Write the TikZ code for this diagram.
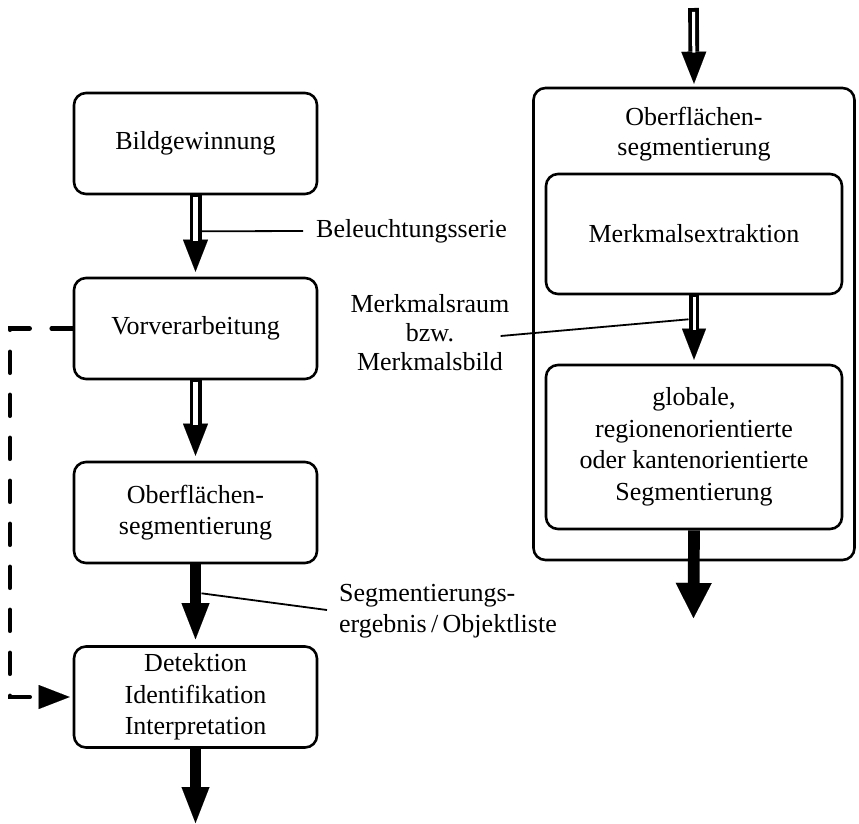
\documentclass[tikz,border=0pt]{standalone}
\usepackage{fontspec}
\setmainfont{Liberation Serif}
\usetikzlibrary{arrows.meta,calc}

\begin{document}
\begin{tikzpicture}[x=1pt,y=-1pt,
  every node/.style={font=\fontsize{26}{31.5}\selectfont, align=center, inner sep=0pt},
  stage/.style={draw, line width=2.6pt, rounded corners=12pt,
    minimum width=243pt, minimum height=101pt},
  % hollow arrow: black outline shaft, white core, filled head
  hollowout/.style={line width=12pt,
    -{Triangle[length=32pt,width=25pt,line width=0.01pt]}, shorten >=5pt},
  hollowin/.style={white, line width=4.8pt, shorten <=1.4pt, shorten >=36pt},
  solidarrow/.style={line width=11.7pt,
    -{Triangle[length=36pt,width=28pt,line width=0.01pt]}},
  labelline/.style={line width=1.8pt},
  feedback/.style={line width=4.5pt, line cap=round, dash pattern=on 21pt off 22pt,
    -{Triangle[length=31pt,width=24pt,line width=0.01pt]}, shorten >=3pt},
]
\useasboundingbox (0,0) rectangle (859,823);

% processing chain
\node[stage] (b1) at (195.5,143.5) {Bildgewinnung};
\node[stage] (b2) at (195.5,328.5) {Vorverarbeitung};
\node[stage] (b3) at (195.5,512.5) {Oberflächen-\\segmentierung};
\node[stage] (b4) at (195.5,697) {Detektion\\Identifikation\\Interpretation};

% detail of the surface segmentation
\node[draw, line width=2.6pt, rounded corners=12pt, minimum width=321pt,
  minimum height=472pt] (outer) at (694,324) {};
\node[font=\fontsize{26}{30}\selectfont] (otitle) at (694,134) {Oberflächen-\\segmentierung};
\node[stage, minimum width=296pt, minimum height=120pt] (m1) at (694,234)
  {Merkmalsextraktion};
\node[stage, minimum width=296pt, minimum height=164pt] (m2) at (694,447)
  {globale,\\regionenorientierte\\oder kantenorientierte\\Segmentierung};

% data labels
\node[anchor=west] (bel) at (316,231) {Beleuchtungsserie};
\node[font=\fontsize{26}{29}\selectfont] (mr) at (430,333) {Merkmalsraum\\bzw.\\Merkmalsbild};
\node[anchor=west, align=left] (seg) at (339,611)
  {Segmentierungs-\\ergebnis\,/\,Objektliste};

\coordinate (topin) at (693.5,8);
\coordinate (outR) at (693.5,618);
\coordinate (outL) at (195.5,823);
\coordinate (dl) at (10,0);

% hollow arrows
\draw[hollowout] (b1.south) -- (b2.north);
\draw[hollowin] (b1.south) -- (b2.north);
\draw[hollowout] (b2.south) -- (b3.north);
\draw[hollowin] (b2.south) -- (b3.north);
\draw[hollowout, line width=10.7pt, shorten >=3pt] (topin) -- (outer.north);
\draw[hollowin, line width=3pt, shorten <=3.8pt, shorten >=34pt] (topin) -- (outer.north);
\draw[hollowout, line width=10.7pt, -{Triangle[length=31pt,width=24pt,line width=0.01pt]}, shorten >=4pt] (m1.south) -- (m2.north);
\draw[hollowin, line width=3pt, shorten >=34pt] (m1.south) -- (m2.north);

% solid arrows
\draw[solidarrow, shorten >=6pt] (b3.south) -- (b4.north);
\draw[solidarrow] (b4.south) -- (outL);
\draw[solidarrow, -{Triangle[length=35pt,width=36pt,line width=0.01pt]}] (m2.south) -- (outR);

% feedback path
\draw[feedback] (b2.west) -| (dl |- b4.west) -- (b4.west);

% label leader lines
\draw[labelline] ($(b1.south)+(6,36)$) -- ($(bel.west)+(-13,0)$);
\draw[labelline] ($(mr.east)+(-9,3)$) -- ($(m1.south)+(-5.5,24)$);
\draw[labelline] ($(b3.south)+(6,29)$) -- ($(seg.west)+(-12,-1)$);
\end{tikzpicture}
\end{document}
